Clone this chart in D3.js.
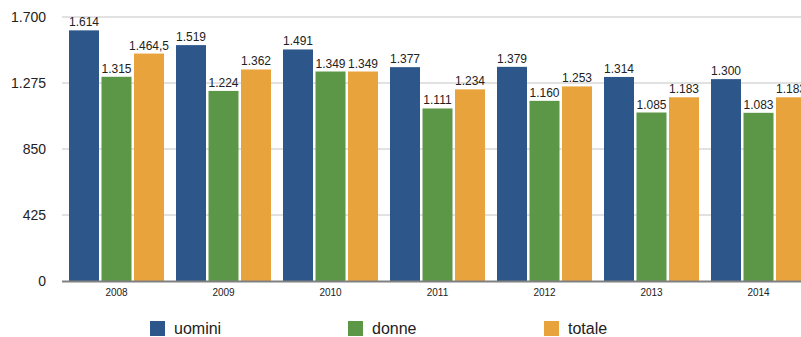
<!DOCTYPE html>
<html>
<head>
<meta charset="utf-8">
<script src="https://cdn.jsdelivr.net/npm/d3@7"></script>
<style>
  html, body { margin: 0; padding: 0; background: #fff; overflow: hidden; }
  svg { display: block; font-family: "Liberation Sans", Arial, Helvetica, sans-serif; }
</style>
</head>
<body>
<svg id="chart" width="801" height="337"></svg>
<script>
// Years on the x axis
const years = ["2008", "2009", "2010", "2011", "2012", "2013", "2014"];
// Series names and colours
const seriesNames = ["uomini", "donne", "totale"];
const seriesColors = ["#2d578b", "#5c9748", "#e8a33c"];
// Values per series
const uomini = [1614, 1519, 1491, 1377, 1379, 1314, 1300];
const donne  = [1315, 1224, 1349, 1111, 1160, 1085, 1083];
const totale = [1464.5, 1362, 1349, 1234, 1253, 1183, 1183];
// Value axis ticks
const yTicks = [0, 425, 850, 1275, 1700];

const seriesValues = [uomini, donne, totale];

const fmt = v => {
  const s = v.toFixed(Number.isInteger(v) ? 0 : 1);
  const [intPart, dec] = s.split(".");
  const withDots = intPart.replace(/\B(?=(\d{3})+(?!\d))/g, ".");
  return dec ? withDots + "," + dec : withDots;
};

const svg = d3.select("#chart");
const plotLeft = 62, plotRight = 812, plotTop = 17, plotBottom = 281;

const y = d3.scaleLinear().domain([0, 1700]).range([plotBottom, plotTop]);
const x0 = d3.scaleBand().domain(years).range([63, plotRight]).paddingInner(0.112).paddingOuter(0.056);
const x1 = d3.scaleBand().domain(seriesNames).range([0, x0.bandwidth()]).paddingInner(0.077);

// Gridlines
svg.append("g")
  .selectAll("line")
  .data(yTicks.filter(t => t > 0))
  .join("line")
  .attr("x1", plotLeft).attr("x2", 801)
  .attr("y1", d => y(d)).attr("y2", d => y(d))
  .attr("stroke", "#c4c4c4").attr("stroke-width", 1);

// Y tick labels
svg.append("g")
  .selectAll("text")
  .data(yTicks)
  .join("text")
  .attr("x", 46)
  .attr("y", d => y(d))
  .attr("dy", "0.35em")
  .attr("text-anchor", "end")
  .attr("font-size", 14)
  .attr("fill", "#222")
  .text(d => fmt(d));

// Bars
const groups = svg.append("g")
  .selectAll("g")
  .data(years)
  .join("g")
  .attr("transform", d => `translate(${x0(d)},0)`);

groups.selectAll("rect")
  .data((d, i) => seriesNames.map((s, k) => ({ s, k, v: seriesValues[k][i] })))
  .join("rect")
  .attr("x", d => x1(d.s))
  .attr("y", d => y(d.v))
  .attr("width", x1.bandwidth())
  .attr("height", d => y(0) - y(d.v))
  .attr("fill", d => seriesColors[d.k]);

// Value labels
groups.selectAll("text")
  .data((d, i) => seriesNames.map((s, k) => ({ s, k, v: seriesValues[k][i] })))
  .join("text")
  .attr("x", d => x1(d.s) + x1.bandwidth() / 2)
  .attr("y", d => y(d.v) - 4)
  .attr("text-anchor", "middle")
  .attr("font-size", 12)
  .attr("fill", "#222")
  .text(d => fmt(d.v));

// Baseline axis
svg.append("line")
  .attr("x1", plotLeft).attr("x2", 801)
  .attr("y1", y(0) + 0.5).attr("y2", y(0) + 0.5)
  .attr("stroke", "#808080").attr("stroke-width", 2);

// Year labels
svg.append("g")
  .selectAll("text")
  .data(years)
  .join("text")
  .attr("x", d => x0(d) + x0.bandwidth() / 2)
  .attr("y", 296)
  .attr("text-anchor", "middle")
  .attr("font-size", 10)
  .attr("fill", "#222")
  .text(d => d);

// Legend
const legendX = [150, 348, 544];
const legend = svg.append("g")
  .selectAll("g")
  .data(seriesNames)
  .join("g")
  .attr("transform", (d, i) => `translate(${legendX[i]},321)`);
legend.append("rect")
  .attr("width", 15).attr("height", 15)
  .attr("fill", (d, i) => seriesColors[i]);
legend.append("text")
  .attr("x", 24).attr("y", 13)
  .attr("font-size", 16)
  .attr("fill", "#222")
  .text(d => d);
</script>
</body>
</html>
